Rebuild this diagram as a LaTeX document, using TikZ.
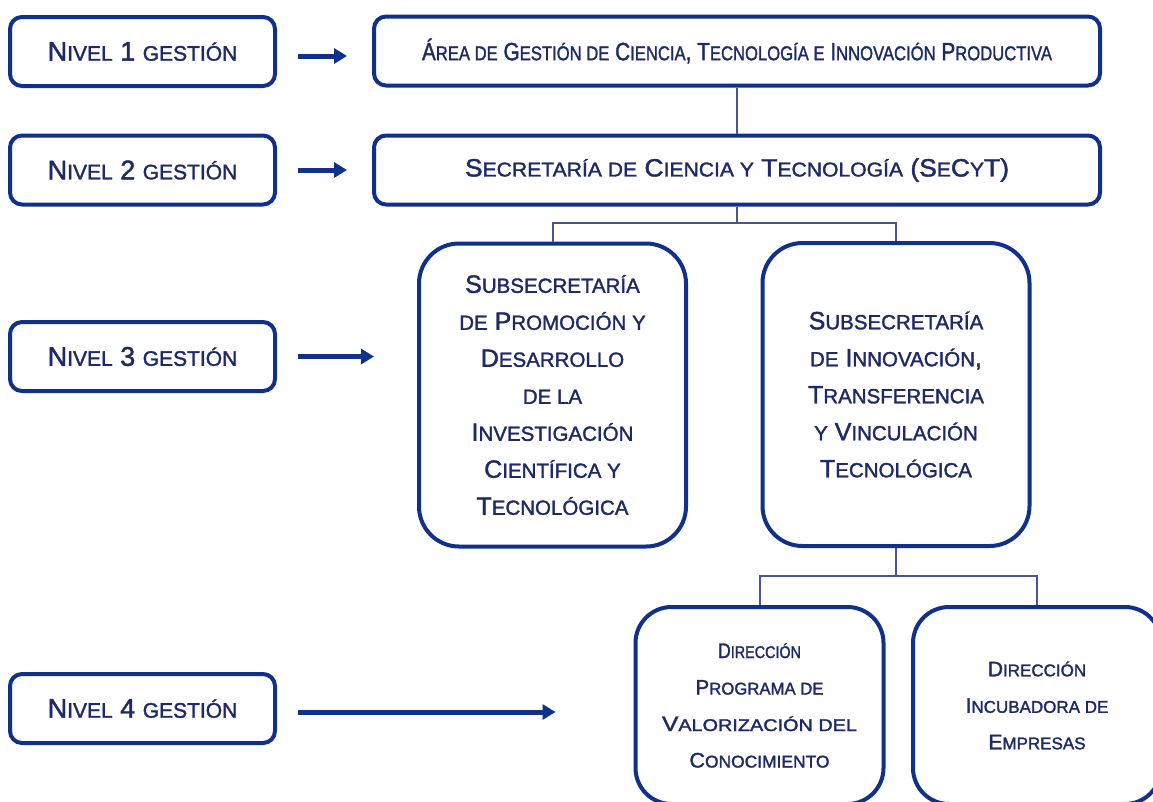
\documentclass[tikz,border=0pt]{standalone}
\usepackage{fontspec}
\usepackage{graphicx}
\setmainfont{Liberation Sans}
\newfontfamily\medfont[FakeBold=1.6]{Liberation Sans}
\usetikzlibrary{arrows.meta}
\definecolor{bord}{HTML}{10308C}
\definecolor{txt}{HTML}{1E2A68}
\definecolor{conn}{HTML}{4A5590}
\def\losz{20}
\newcommand\lo[1]{{\fontsize{\losz}{\losz}\selectfont #1}}
\tikzset{
  box/.style={draw=bord, line width=4pt, rounded corners=12pt, fill=white, text=txt, align=center, inner sep=0pt},
  lvl/.style={box, minimum width=265pt, minimum height=69pt, font={\medfont\def\losz{21}\fontsize{27}{27}\selectfont}},
  topbox/.style={box, minimum width=726pt, minimum height=69pt},
  subbox/.style={box, rounded corners=40pt, minimum width=267pt, minimum height=303pt, font={\medfont\def\losz{20.5}\fontsize{25}{37}\selectfont}},
  dirbox/.style={box, rounded corners=36pt, minimum width=248pt, minimum height=197pt, font={\medfont\def\losz{17}\fontsize{21}{36.5}\selectfont}},
  lvlarrow/.style={draw=bord, line width=5pt, -{Triangle[length=13pt,width=15pt]}},
  conline/.style={draw=conn, line width=2pt},
}
\begin{document}
\begin{tikzpicture}[x=1pt,y=-1pt]
\useasboundingbox[fill=white] (0,0) rectangle (1153,801);
\begin{scope}
\clip (0,0) rectangle (1153,801);
% level boxes
\node[lvl] (n1) at (142.5,51.5) {N\lo{IVEL} 1 \lo{GESTIÓN}};
\node[lvl] (n2) at (142.5,170) {N\lo{IVEL} 2 \lo{GESTIÓN}};
\node[lvl] (n3) at (142.5,356.5) {N\lo{IVEL} 3 \lo{GESTIÓN}};
\node[lvl] (n4) at (142.5,708.5) {N\lo{IVEL} 4 \lo{GESTIÓN}};
% org boxes
\node[topbox, font={\medfont\def\losz{20}\fontsize{25}{25}\selectfont}] (area) at (737,51)
  {\resizebox{630pt}{\height}{Á\lo{REA DE} G\lo{ESTIÓN DE} C\lo{IENCIA}, T\lo{ECNOLOGÍA E} I\lo{NNOVACIÓN} P\lo{RODUCTIVA}}};
\node[topbox, font={\medfont\def\losz{20}\fontsize{25}{25}\selectfont}] (sec) at (737,170)
  {\resizebox{544pt}{\height}{S\lo{ECRETARÍA DE} C\lo{IENCIA Y} T\lo{ECNOLOGÍA} (S\lo{E}C\lo{Y}T)}};
\node[subbox] (subA) at (552.5,395)
  {S\lo{UBSECRETARÍA}\\ \lo{DE} P\lo{ROMOCIÓN Y}\\ D\lo{ESARROLLO}\\ \lo{DE LA}\\ I\lo{NVESTIGACIÓN}\\ C\lo{IENTÍFICA Y}\\ T\lo{ECNOLÓGICA}};
\node[subbox] (subB) at (896,394.5)
  {S\lo{UBSECRETARÍA}\\ \lo{DE} I\lo{NNOVACIÓN},\\ T\lo{RANSFERENCIA}\\ \lo{Y} V\lo{INCULACIÓN}\\ T\lo{ECNOLÓGICA}};
\node[dirbox] (dirA) at (759.5,705.5)
  {\resizebox{83pt}{\height}{D\lo{IRECCIÓN}}\\ \resizebox{128pt}{\height}{P\lo{ROGRAMA DE}}\\ \resizebox{195pt}{\height}{V\lo{ALORIZACIÓN DEL}}\\ \resizebox{140pt}{\height}{C\lo{ONOCIMIENTO}}};
\node[dirbox] (dirB) at (1037,705.5)
  {D\lo{IRECCIÓN}\\ I\lo{NCUBADORA DE}\\ E\lo{MPRESAS}};
% arrows
\coordinate (a1s) at ([xshift=21pt]n1.east); \coordinate (a1e) at ([xshift=-25pt]area.west);
\coordinate (a2s) at ([xshift=21pt]n2.east); \coordinate (a2e) at ([xshift=-25pt]sec.west);
\coordinate (a3s) at ([xshift=21pt]n3.east); \coordinate (a3e) at ([xshift=-43pt]subA.west);
\coordinate (a4s) at ([xshift=21pt]n4.east); \coordinate (a4e) at ([xshift=-78pt]dirA.west);
\draw[lvlarrow] (a1s |- 0,56) -- (a1e |- 0,56);
\draw[lvlarrow] (a2s) -- (a2e);
\draw[lvlarrow] (a3s) -- (a3e |- a3s);
\draw[lvlarrow] (a4s |- 0,712) -- (a4e |- 0,712);
% connectors
\draw[conline] (area.south) -- (sec.north);
\coordinate (j1) at ([yshift=-16pt]sec.south);
\draw[conline] (sec.south) -- (j1) -| (subA.north);
\draw[conline] (j1) -| (subB.north);
\coordinate (j2) at ([yshift=-28pt]subB.south);
\draw[conline] (subB.south) -- (j2) -| (dirA.north);
\draw[conline] (j2) -| (dirB.north);
\end{scope}
\end{tikzpicture}
\end{document}
